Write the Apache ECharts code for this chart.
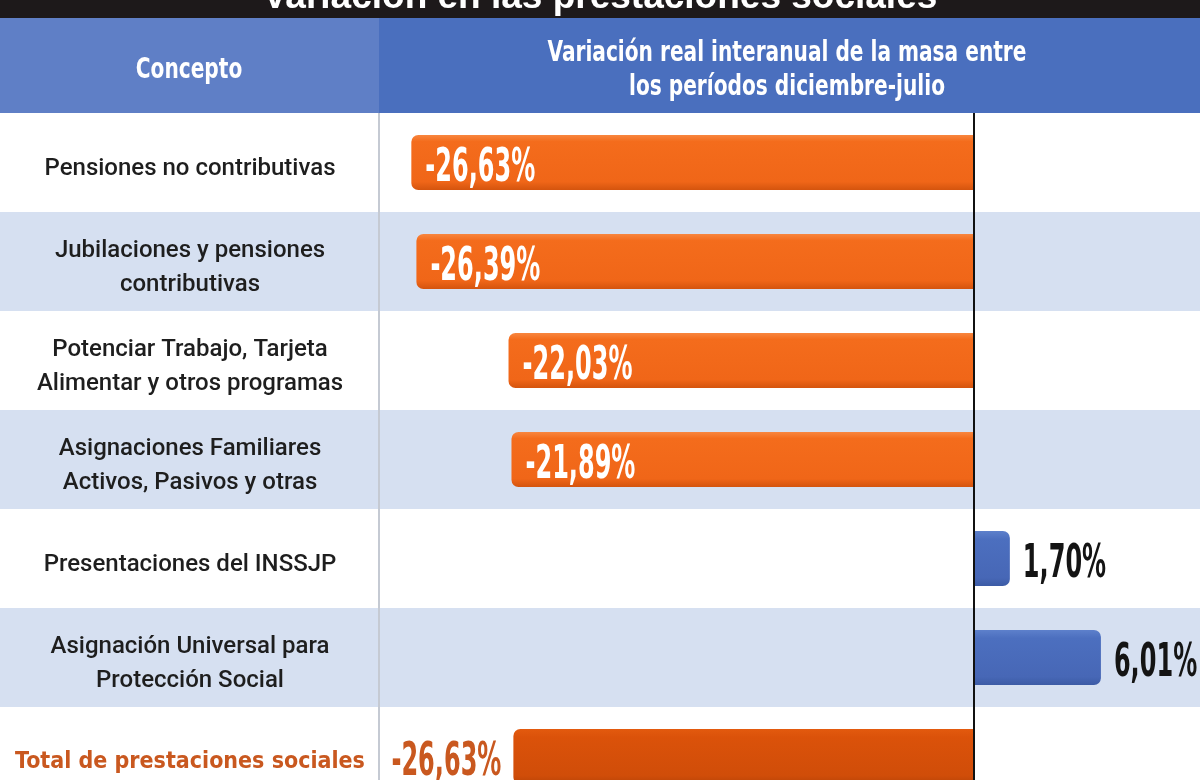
<!DOCTYPE html>
<html>
<head>
<meta charset="utf-8">
<script src="https://cdn.jsdelivr.net/npm/echarts@6/dist/echarts.min.js"></script>
<style>
html,body{margin:0;padding:0;background:#fff;}
#chart{width:1200px;height:780px;}
</style>
</head>
<body>
<div id="chart"></div>
<script>
// ---- data ----
var titleText = 'Variación en las prestaciones sociales';
var headerLeft = 'Concepto';
var headerRight = 'Variación real interanual de la masa entre\nlos períodos diciembre-julio';
var categories = [
  'Pensiones no contributivas',
  'Jubilaciones y pensiones\ncontributivas',
  'Potenciar Trabajo, Tarjeta\nAlimentar y otros programas',
  'Asignaciones Familiares\nActivos, Pasivos y otras',
  'Presentaciones del INSSJP',
  'Asignación Universal para\nProtección Social',
  'Total de prestaciones sociales'
];
// bar lengths as drawn in the picture (the total bar is drawn shorter than its -26,63% label)
var values = [-26.63, -26.39, -22.03, -21.89, 1.70, 6.01, -21.8];
var valueLabels = ['-26,63%', '-26,39%', '-22,03%', '-21,89%', '1,70%', '6,01%', '-26,63%'];
var totalIndex = 6;

var COND = "'DejaVu Sans Condensed','DejaVu Sans',sans-serif";

var chart = echarts.init(document.getElementById('chart'));

function grad(stops) {
  return new echarts.graphic.LinearGradient(0, 0, 0, 1, stops);
}
var orange = grad([{offset:0,color:'#f8863f'},{offset:0.12,color:'#f46c1c'},{offset:0.85,color:'#f06618'},{offset:1,color:'#d4540e'}]);
var darkOrange = grad([{offset:0,color:'#e35a0e'},{offset:0.15,color:'#db520a'},{offset:0.85,color:'#d04d09'},{offset:1,color:'#b94407'}]);
var blue = grad([{offset:0,color:'#5d80cb'},{offset:0.15,color:'#4c6fbf'},{offset:0.85,color:'#4767b6'},{offset:1,color:'#3c5ba5'}]);

var barData = values.map(function (v, i) {
  var isTotal = i === totalIndex;
  var neg = v < 0;
  return {
    value: v,
    itemStyle: {
      color: isTotal ? darkOrange : (neg ? orange : blue),
      borderRadius: neg ? [7, 0, 0, 7] : [0, 7, 7, 0]
    }
  };
});

// condensed value labels drawn at the bar ends via the axes' scales
function renderLabel(params, api) {
  var i = api.value(1);
  var v = api.value(0);
  var p = api.coord([v, i]);
  var isTotal = i === totalIndex;
  var neg = v < 0;
  var x, align, fill;
  if (isTotal) { x = p[0] - 12; align = 'right'; fill = '#c9581f'; }
  else if (neg) { x = p[0] + 14; align = 'left'; fill = '#ffffff'; }
  else { x = p[0] + 13; align = 'left'; fill = '#141414'; }
  return {
    type: 'text',
    x: x,
    y: p[1] + 7,
    scaleX: 0.58,
    style: {
      text: valueLabels[i],
      fill: fill,
      font: 'bold 46px ' + COND,
      align: align,
      verticalAlign: 'middle'
    },
    z2: 10
  };
}

var option = {
  backgroundColor: '#ffffff',
  animation: false,
  grid: { left: 0, right: 0, top: 113, height: 693, containLabel: false, outerBoundsMode: 'none' },
  xAxis: {
    type: 'value',
    min: -46.1,
    max: 10.7,
    show: false
  },
  yAxis: {
    type: 'category',
    inverse: true,
    data: categories,
    axisLine: { show: false, onZero: false },
    axisTick: { show: false },
    splitLine: { show: false },
    splitArea: { show: true, areaStyle: { color: ['#ffffff', '#d6e0f1'] } },
    axisLabel: {
      inside: true,
      margin: 190,
      align: 'center',
      padding: [12, 0, 0, 0],
      formatter: function (val, idx) {
        return idx === totalIndex ? '{t|' + val + '}' : '{n|' + val.split('\n').join('}\n{n|') + '}';
      },
      rich: {
        n: { fontFamily: 'Roboto, sans-serif', fontWeight: 500, fontSize: 24, color: '#1e1e1e', lineHeight: 34, align: 'center' },
        t: { fontFamily: COND, fontWeight: 'bold', fontSize: 23, color: '#c9581f', lineHeight: 34, align: 'center' }
      }
    }
  },
  series: [{
    type: 'bar',
    data: barData,
    barWidth: 55,
    markLine: {
      silent: true,
      symbol: 'none',
      label: { show: false },
      lineStyle: { color: '#111111', width: 2, type: 'solid' },
      data: [{ xAxis: 0 }]
    },
    z: 3
  }, {
    type: 'custom',
    renderItem: renderLabel,
    data: values.map(function (v, i) { return [v, i]; }),
    encode: { x: 0, y: 1 },
    z: 6,
    silent: true
  }],
  graphic: [
    { type: 'rect', shape: { x: 0, y: 0, width: 1200, height: 18 }, style: { fill: '#1d191a' }, z: 10 },
    { type: 'text', x: 600, y: -2, z: 11, style: { text: titleText, fill: '#ffffff', font: "bold 37px 'Liberation Sans', Arial, sans-serif", textAlign: 'center', textVerticalAlign: 'middle' } },
    { type: 'rect', shape: { x: 0, y: 18, width: 379, height: 95 }, style: { fill: '#5f7fc6' }, z: 10 },
    { type: 'rect', shape: { x: 379, y: 18, width: 821, height: 95 }, style: { fill: '#4a6fbe' }, z: 10 },
    { type: 'text', x: 189, y: 71, scaleX: 0.8, z: 11, style: { text: headerLeft, fill: '#ffffff', font: "bold 28px " + COND, textAlign: 'center', textVerticalAlign: 'middle' } },
    { type: 'text', x: 787, y: 71, scaleX: 0.8, z: 11, style: { text: headerRight, fill: '#ffffff', font: "bold 28px " + COND, textAlign: 'center', textVerticalAlign: 'middle', lineHeight: 34 } },
    { type: 'line', shape: { x1: 379, y1: 113, x2: 379, y2: 780 }, style: { stroke: '#c5cad3', lineWidth: 2 }, z: 5 }
  ]
};
chart.setOption(option);
</script>
</body>
</html>
